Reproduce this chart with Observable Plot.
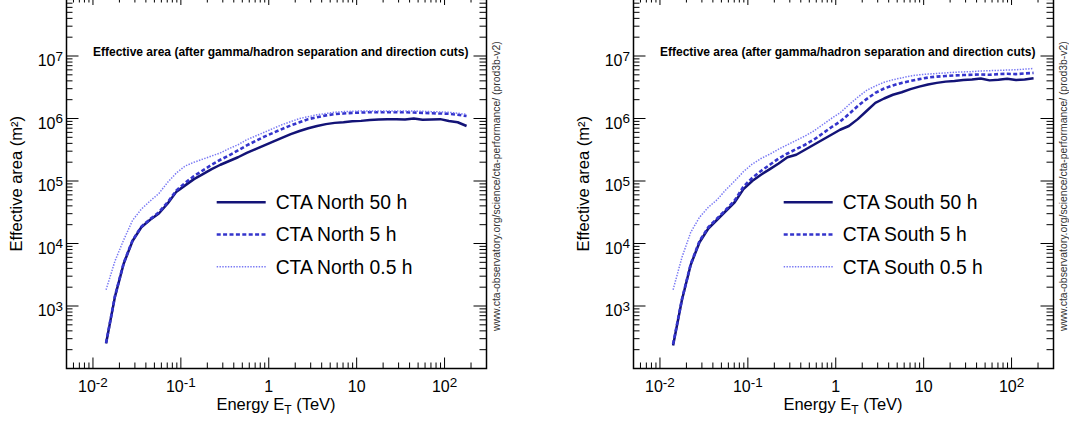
<!DOCTYPE html>
<html><head><meta charset="utf-8">
<script src="https://cdn.jsdelivr.net/npm/d3@7"></script>
<script src="https://cdn.jsdelivr.net/npm/@observablehq/plot@0.6"></script>
<style>
html,body{margin:0;padding:0;background:#fff;overflow:hidden;width:1069px;height:426px;}
#wrap{position:relative;width:1069px;height:426px;overflow:hidden;background:#fff;}
.panel{position:absolute;top:-27px;}
</style></head><body><div id="wrap"></div>
<script>
// Energy bin centres (TeV)
const energy = [0.0141,0.0178,0.0224,0.0282,0.0355,0.0447,0.0562,0.0708,0.0891,0.112,0.141,0.178,0.224,0.282,0.355,0.447,0.562,0.708,0.891,1.12,1.41,1.78,2.24,2.82,3.55,4.47,5.62,7.08,8.91,11.2,14.1,17.8,22.4,28.2,35.5,44.7,56.2,70.8,89.1,112,141,178];

// CTA North effective area (m^2)
const north50h = [251,1413,4786,10960,18200,23990,30200,43650,67610,85110,107200,128800,154900,182000,208900,239900,281800,323600,371500,426600,489800,562300,631000,699800,758600,812800,851100,871000,901600,916200,944100,966100,977200,977200,966100,1000000,955000,966100,977200,912000,871000,758600];
const north5h = [257,1445,4898,11220,18620,24550,31620,45710,70790,93330,120200,147900,182000,218800,257000,309000,371500,436500,512900,588800,676100,776200,871000,977200,1047000,1122000,1175000,1202000,1230000,1245000,1259000,1259000,1259000,1259000,1259000,1245000,1230000,1216000,1202000,1189000,1148000,1096000];
const north05h = [1820,5248,11480,23440,35480,47860,63100,95500,134900,173800,199500,223900,251200,281800,331100,380200,457100,524800,602600,691800,794300,891300,1000000,1072000,1148000,1202000,1259000,1288000,1303000,1318000,1318000,1318000,1324000,1324000,1318000,1318000,1303000,1288000,1274000,1259000,1216000,1161000];

// CTA South effective area (m^2)
const south50h = [234,1259,4571,10470,17380,23990,33110,45710,74130,100000,125900,154900,190500,239900,263000,316200,380200,457100,549500,660700,758600,977200,1318000,1778000,2089000,2399000,2630000,2951000,3236000,3508000,3715000,3890000,3981000,4121000,4217000,4365000,4074000,4169000,4315000,4121000,4217000,4416000];
const south5h = [245,1288,4677,10960,18200,25120,34670,48980,81280,112200,144500,182000,229100,275400,323600,380200,457100,575400,724400,891300,1175000,1585000,2042000,2570000,3020000,3388000,3715000,3981000,4266000,4519000,4677000,4786000,4898000,4955000,5012000,5070000,5012000,5129000,5188000,5129000,5248000,5370000];
const south05h = [1820,6026,15140,26300,38020,50120,72440,100000,141300,186200,229100,269200,323600,380200,446700,524800,631000,794300,1000000,1230000,1660000,2188000,2818000,3311000,3802000,4169000,4467000,4786000,5012000,5129000,5248000,5370000,5495000,5559000,5623000,5754000,5821000,5888000,5957000,6026000,6166000,6310000];

// Axis ticks and labels
const xMajorTicks = [0.01,0.1,1,10,100];
const xTickBase = ["10","10","1","10","10"];
const xTickExp = ["-2","-1","","","2"];
const xMinorTicks = [0.006,0.007,0.008,0.009,0.02,0.03,0.04,0.05,0.06,0.07,0.08,0.09,0.2,0.3,0.4,0.5,0.6,0.7,0.8,0.9,2,3,4,5,6,7,8,9,20,30,40,50,60,70,80,90,200];
const yMajorTicks = [1e3,1e4,1e5,1e6,1e7];
const yTickExp = ["3","4","5","6","7"];
const yMinorTicks = [200,300,400,500,600,700,800,900,2e3,3e3,4e3,5e3,6e3,7e3,8e3,9e3,2e4,3e4,4e4,5e4,6e4,7e4,8e4,9e4,2e5,3e5,4e5,5e5,6e5,7e5,8e5,9e5,2e6,3e6,4e6,5e6,6e6,7e6,8e6,9e6,2e7,3e7,4e7,5e7,6e7,7e7,8e7,9e7];

const innerTitle = "Effective area (after gamma/hadron separation and direction cuts)";
const watermark = "www.cta-observatory.org/science/cta-performance/ (prod3b-v2)";
const northLabels = ["CTA North 50 h","CTA North 5 h","CTA North 0.5 h"];
const southLabels = ["CTA South 50 h","CTA South 5 h","CTA South 0.5 h"];

const FONT = "'Liberation Sans', Arial, Helvetica, sans-serif";
const seriesStyle = [
  {stroke:"#131377", strokeWidth:2.5, dash:null},
  {stroke:"#3434cc", strokeWidth:2.6, dash:"4,2.4"},
  {stroke:"#7878f4", strokeWidth:1.5, dash:"1.4,1.4"}
];

const ctx = document.createElement("canvas").getContext("2d");
function tw(s, size){ ctx.font = `${size}px ${FONT}`; return ctx.measureText(s).width; }

const BASE = 16, EXP = 13.5;

function panel(series, labels, left) {
  const W = 420, H = 375, ML = 66, MT = 20;
  const marks = [];
  const rows = series.map(s => energy.map((e,i)=>({e, a:s[i]})));
  // curves
  rows.forEach((r,k)=>{
    const st = seriesStyle[k];
    marks.push(Plot.line(r, {x:"e", y:"a", stroke:st.stroke, strokeWidth:st.strokeWidth, strokeDasharray:st.dash, strokeLinecap:"butt", strokeLinejoin:"round", curve:"linear"}));
  });
  // ticks on all four sides (inward)
  const XM = 10.5, Xm = 5.5, YM = 12.5, Ym = 6.5, TM = 12, Tm = 9.5;
  marks.push(
    Plot.ruleX(xMajorTicks, {x:d=>d, insetTop:H-XM, stroke:"#000"}),
    Plot.ruleX(xMajorTicks, {x:d=>d, insetBottom:H-TM, stroke:"#000"}),
    Plot.ruleX(xMinorTicks, {x:d=>d, insetTop:H-Xm, stroke:"#000"}),
    Plot.ruleX(xMinorTicks, {x:d=>d, insetBottom:H-Tm, stroke:"#000"}),
    Plot.ruleY(yMajorTicks, {y:d=>d, insetRight:W-YM, stroke:"#000"}),
    Plot.ruleY(yMajorTicks, {y:d=>d, insetLeft:W-YM, stroke:"#000"}),
    Plot.ruleY(yMinorTicks, {y:d=>d, insetRight:W-Ym, stroke:"#000"}),
    Plot.ruleY(yMinorTicks, {y:d=>d, insetLeft:W-Ym, stroke:"#000"}),
    Plot.frame({stroke:"#000", strokeWidth:1.5})
  );
  // x tick labels
  xMajorTicks.forEach((v,i)=>{
    const b = xTickBase[i], e = xTickExp[i];
    const bw = tw(b,BASE), ew = e ? tw(e,EXP) : 0;
    const l = -(bw+ew)/2;
    marks.push(Plot.text([v], {x:d=>d, text:()=>b, frameAnchor:"bottom", textAnchor:"start", lineAnchor:"middle", dx:l, dy:18.3, fontSize:BASE}));
    if (e) marks.push(Plot.text([v], {x:d=>d, text:()=>e, frameAnchor:"bottom", textAnchor:"start", lineAnchor:"middle", dx:l+bw, dy:14.4, fontSize:EXP}));
  });
  // y tick labels
  yMajorTicks.forEach((v,i)=>{
    const e = yTickExp[i];
    const ew = tw(e,EXP);
    marks.push(Plot.text([v], {y:d=>d, text:()=>e, frameAnchor:"left", textAnchor:"end", lineAnchor:"middle", dx:-3.5, dy:0.6, fontSize:EXP}));
    marks.push(Plot.text([v], {y:d=>d, text:()=>"10", frameAnchor:"left", textAnchor:"end", lineAnchor:"middle", dx:-3.5-ew, dy:4.9, fontSize:BASE}));
  });
  // y title
  marks.push(Plot.text(["Effective area (m²)"], {text:d=>d, frameAnchor:"left", rotate:-90, textAnchor:"middle", lineAnchor:"middle", dx:-49.3, dy:2.7, fontSize:16.5}));
  // inner title
  marks.push(Plot.text([innerTitle], {text:d=>d, frameAnchor:"top-left", textAnchor:"start", lineAnchor:"middle", dx:26.5, dy:58.6, fontSize:12, fontWeight:"bold"}));
  // watermark
  marks.push(Plot.text([watermark], {text:d=>d, frameAnchor:"right", rotate:-90, textAnchor:"middle", lineAnchor:"middle", dx:9.7, dy:5.2, fontSize:10.4, fill:"#333"}));

  const svg = Plot.plot({
    width:534, height:453, marginLeft:ML, marginRight:48, marginTop:MT, marginBottom:58,
    x:{type:"log", domain:[0.005,300], axis:null},
    y:{type:"log", domain:[1e2,1e8], axis:null},
    style:{fontFamily:FONT, background:"transparent", color:"#000"},
    marks
  });
  const s = d3.select(svg);
  // x title with subscript
  const t = s.append("text").attr("x", ML + W/2).attr("y", 436.5).attr("text-anchor","middle")
    .attr("font-size",16.5).attr("font-family",FONT).attr("fill","#000");
  t.append("tspan").text("Energy E");
  t.append("tspan").attr("font-size",12).attr("dy",4.5).text("T");
  t.append("tspan").attr("dy",-4.5).text(" (TeV)");
  // legend
  const lg = s.append("g").attr("text-anchor","start");
  const rowY = [202.3, 234.5, 266.7];
  labels.forEach((lab,k)=>{
    const st = seriesStyle[k];
    const y = rowY[k] + 27;
    lg.append("line").attr("x1", ML+150.7).attr("x2", ML+199.7).attr("y1", y).attr("y2", y)
      .attr("stroke", st.stroke).attr("stroke-width", st.strokeWidth).attr("stroke-dasharray", st.dash);
    lg.append("text").attr("x", ML+209.7).attr("y", y+6.9).attr("text-anchor","start").attr("font-size",19.3).attr("font-family",FONT).attr("fill","#000").text(lab);
  });
  svg.setAttribute("class","panel");
  svg.style.left = left + "px";
  document.getElementById("wrap").appendChild(svg);
}
panel([north50h, north5h, north05h], northLabels, 0);
panel([south50h, south5h, south05h], southLabels, 567.3);
</script></body></html>
